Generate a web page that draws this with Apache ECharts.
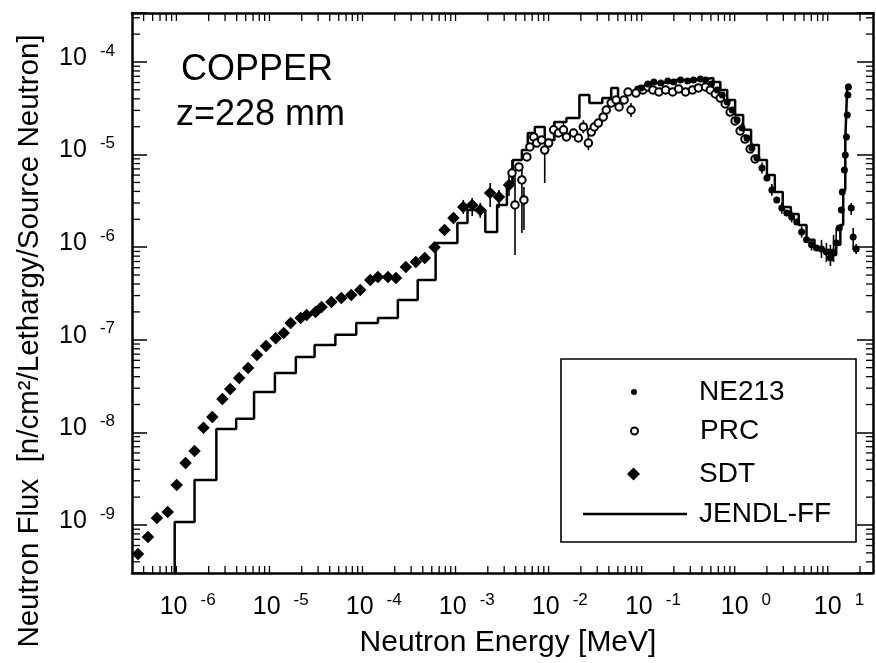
<!DOCTYPE html>
<html><head><meta charset="utf-8">
<script src="https://cdn.jsdelivr.net/npm/echarts@6/dist/echarts.min.js"></script>
<style>html,body{margin:0;padding:0;background:#fff}#c{width:876px;height:663px}</style>
</head><body><div id="c"></div>
<script>
const FONT = '"Liberation Sans", Arial, Helvetica, sans-serif';

// ---- SDT (diamonds) ----
const sdtE = [3.48e-7, 4.45e-7, 5.55e-7, 7.26e-7, 9.06e-7, 1.13e-6, 1.41e-6, 1.76e-6, 2.19e-6, 2.81e-6, 3.41e-6, 4.26e-6, 5.31e-6, 6.62e-6, 8.26e-6, 1.05e-5, 1.28e-5, 1.52e-5, 1.95e-5, 2.26e-5, 2.82e-5, 3.27e-5, 4.17e-5, 5.33e-5, 6.82e-5, 8.51e-5, 1.09e-4, 1.32e-4, 1.69e-4, 2.06e-4, 2.63e-4, 3.37e-4, 4.20e-4, 5.36e-4, 6.85e-4, 8.55e-4, 1.09e-3, 1.36e-3, 1.66e-3, 2.12e-3, 2.64e-3, 3.38e-3];
const sdtF = [4.86e-10, 7.41e-10, 1.19e-9, 1.38e-9, 2.70e-9, 4.68e-9, 6.30e-9, 1.12e-8, 1.47e-8, 2.30e-8, 2.94e-8, 3.87e-8, 4.95e-8, 6.85e-8, 8.57e-8, 1.04e-7, 1.18e-7, 1.52e-7, 1.72e-7, 1.85e-7, 2.00e-7, 2.26e-7, 2.56e-7, 2.82e-7, 3.05e-7, 3.45e-7, 4.43e-7, 4.77e-7, 4.77e-7, 4.65e-7, 6.11e-7, 6.92e-7, 7.64e-7, 1.00e-6, 1.53e-6, 2.07e-6, 2.72e-6, 2.86e-6, 2.52e-6, 3.85e-6, 3.48e-6, 4.70e-6];
const sdtErrE  = [1.09e-3, 1.36e-3, 1.66e-3, 2.12e-3, 2.64e-3, 3.38e-3];
const sdtErrLo = [2.28e-6, 2.17e-6, 2.07e-6, 2.72e-6, 2.65e-6, 3.57e-6];
const sdtErrHi = [3.24e-6, 3.40e-6, 3.00e-6, 4.93e-6, 4.15e-6, 5.87e-6];

// ---- PRC (open circles) ----
const prcE = [3.64e-3, 3.92e-3, 4.32e-3, 4.65e-3, 4.89e-3, 5.26e-3, 5.66e-3, 6.24e-3, 6.71e-3, 7.60e-3, 8.18e-3, 9.02e-3, 1.02e-2, 1.15e-2, 1.30e-2, 1.40e-2, 1.67e-2, 1.88e-2, 2.13e-2, 2.41e-2, 2.59e-2, 2.79e-2, 3.08e-2, 3.48e-2, 3.75e-2, 4.24e-2, 4.79e-2, 5.15e-2, 5.83e-2, 6.43e-2, 6.92e-2, 7.82e-2, 9.29e-2, 0.105, 0.119, 0.138, 0.163, 0.194, 0.225, 0.267, 0.317, 0.367, 0.437, 0.493, 0.557, 0.631, 0.713, 0.805, 0.910, 1.03, 1.16, 1.32, 1.49];
const prcF = [6.32e-6, 2.86e-6, 7.35e-6, 5.32e-6, 3.24e-6, 9.42e-6, 1.21e-5, 1.55e-5, 1.33e-5, 1.44e-5, 1.12e-5, 1.33e-5, 1.85e-5, 1.71e-5, 1.85e-5, 1.55e-5, 1.71e-5, 1.51e-5, 1.99e-5, 1.33e-5, 1.75e-5, 1.99e-5, 2.19e-5, 2.55e-5, 3.03e-5, 3.61e-5, 3.89e-5, 3.27e-5, 3.89e-5, 4.74e-5, 3.03e-5, 4.62e-5, 4.99e-5, 5.37e-5, 4.99e-5, 4.74e-5, 4.99e-5, 4.74e-5, 5.11e-5, 4.74e-5, 4.99e-5, 5.24e-5, 5.37e-5, 4.99e-5, 4.51e-5, 4.08e-5, 3.52e-5, 2.88e-5, 2.31e-5, 1.80e-5, 1.47e-5, 1.15e-5, 8.96e-6];
const prcErrE  = [3.64e-3, 3.92e-3, 4.65e-3, 4.89e-3, 8.18e-3, 1.02e-2, 1.30e-2, 2.13e-2, 2.41e-2, 6.92e-2];
const prcErrLo = [4.47e-6, 8.24e-7, 1.42e-6, 1.53e-6, 4.93e-6, 1.55e-5, 1.55e-5, 1.70e-5, 1.12e-5, 2.55e-5];
const prcErrHi = [8.75e-6, 6.82e-6, 7.73e-6, 4.47e-6, 1.63e-5, 2.25e-5, 2.20e-5, 2.35e-5, 1.71e-5, 3.61e-5];

// ---- NE213 (small filled dots) ----
const neE = [8.85e-2, 0.105, 0.122, 0.145, 0.172, 0.199, 0.236, 0.281, 0.325, 0.385, 0.437, 0.506, 0.586, 0.662, 0.748, 0.845, 0.957, 1.08, 1.22, 1.38, 1.56, 1.77, 2.00, 2.26, 2.55, 2.89, 3.27, 3.69, 4.18, 4.72, 5.33, 6.03, 6.82, 7.71, 8.71, 9.62, 10.4, 11.1, 12.0, 12.6, 12.9, 13.6, 13.9, 14.3, 14.6, 14.8, 15.0, 16.1, 16.9, 18.2];
const neF = [5.24e-5, 5.78e-5, 6.08e-5, 5.93e-5, 6.23e-5, 6.08e-5, 6.40e-5, 6.23e-5, 6.40e-5, 6.55e-5, 6.40e-5, 5.78e-5, 4.99e-5, 4.40e-5, 3.70e-5, 3.03e-5, 2.37e-5, 1.94e-5, 1.51e-5, 1.18e-5, 9.19e-6, 7.16e-6, 5.58e-6, 4.15e-6, 3.24e-6, 2.65e-6, 2.34e-6, 2.12e-6, 1.87e-6, 1.46e-6, 1.20e-6, 1.06e-6, 9.80e-7, 9.55e-7, 8.87e-7, 7.64e-7, 8.87e-7, 1.11e-6, 1.61e-6, 2.52e-6, 3.95e-6, 6.82e-6, 9.90e-6, 1.55e-5, 2.68e-5, 4.40e-5, 5.37e-5, 2.65e-6, 1.29e-6, 9.55e-7];
const neErrE  = [1.08, 1.38, 1.77, 2.26, 2.89, 3.69, 4.72, 6.03, 7.71, 8.71, 9.62, 10.4, 11.1, 16.1, 16.9, 18.2];
const neErrLo = [1.70e-5, 1.03e-5, 6.25e-6, 3.60e-6, 2.30e-6, 1.85e-6, 1.27e-6, 9.20e-7, 7.64e-7, 6.92e-7, 6.27e-7, 6.92e-7, 8.24e-7, 2.23e-6, 9.33e-7, 8.43e-7];
const neErrHi = [2.20e-5, 1.35e-5, 8.20e-6, 4.80e-6, 3.05e-6, 2.45e-6, 1.68e-6, 1.22e-6, 1.20e-6, 1.11e-6, 1.06e-6, 1.36e-6, 1.61e-6, 3.00e-6, 1.61e-6, 1.08e-6];

// ---- JENDL-FF (histogram, left bin edges) ----
const jendlE = [8.63e-7, 8.63e-7, 1.41e-6, 2.42e-6, 3.95e-6, 6.15e-6, 1.03e-5, 1.73e-5, 2.75e-5, 4.60e-5, 7.71e-5, 1.32e-4, 2.16e-4, 3.53e-4, 5.50e-4, 9.42e-4, 1.21e-3, 1.88e-3, 2.52e-3, 3.21e-3, 3.72e-3, 4.65e-3, 5.38e-3, 6.40e-3, 8.18e-3, 1.04e-2, 1.40e-2, 1.93e-2, 2.47e-2, 3.40e-2, 4.24e-2, 5.02e-2, 6.12e-2, 7.82e-2, 0.105, 0.145, 0.209, 0.302, 0.437, 0.531, 0.631, 0.748, 0.910, 1.11, 1.35, 1.64, 2.00, 2.43, 2.96, 3.61, 4.39, 5.33, 6.49, 7.91, 9.62, 11.1, 12.3, 13.2, 13.9, 14.6, 15.7];
const jendlF = [1e-10, 1.08e-9, 3.06e-9, 1.09e-8, 1.40e-8, 2.73e-8, 4.38e-8, 6.52e-8, 8.79e-8, 1.13e-7, 1.52e-7, 1.72e-7, 2.69e-7, 4.43e-7, 1.11e-6, 1.82e-6, 2.52e-6, 1.46e-6, 2.86e-6, 4.70e-6, 8.75e-6, 1.12e-5, 1.71e-5, 1.99e-5, 1.44e-5, 2.25e-5, 2.48e-5, 4.40e-5, 3.61e-5, 4.08e-5, 5.24e-5, 3.89e-5, 4.74e-5, 5.37e-5, 5.93e-5, 6.08e-5, 6.40e-5, 6.55e-5, 6.72e-5, 6.08e-5, 4.99e-5, 3.89e-5, 2.68e-5, 1.85e-5, 1.27e-5, 8.75e-6, 6.02e-6, 3.95e-6, 2.72e-6, 2.28e-6, 1.74e-6, 1.20e-6, 1.00e-6, 9.33e-7, 8.24e-7, 1.06e-6, 1.74e-6, 4.15e-6, 1.44e-5, 5.65e-5, 5.65e-5];

// ---- axes ----
const X_MIN = 3.0e-7, X_MAX = 27.6;
const Y_MIN = 3.03e-10, Y_MAX = 3.38e-4;
const xTickExps = [-6, -5, -4, -3, -2, -1, 0, 1];
const yTickExps = [-9, -8, -7, -6, -5, -4];
const xTitle = 'Neutron Energy [MeV]';
const yTitle = 'Neutron Flux  [n/cm\u00B2/Lethargy/Source Neutron]';
const labelLines = ['COPPER', 'z=228 mm'];

const zip = (a, b) => a.map((v, i) => [v, b[i]]);
const zip3 = (a, b, c) => a.map((v, i) => [v, b[i], c[i]]);

const xMinor = [];
for (let n = -7; n <= 1; n++) for (let k = 2; k <= 9; k++) { const v = k * Math.pow(10, n); if (v > X_MIN && v < X_MAX) xMinor.push([v, Y_MIN]); }
const yMinor = [];
for (let n = -10; n <= -4; n++) for (let k = 2; k <= 9; k++) { const v = k * Math.pow(10, n); if (v > Y_MIN && v < Y_MAX) yMinor.push([X_MIN, v]); }

function expLabel(list) {
  return function (v) {
    const l = Math.log10(v), e = Math.round(l);
    if (Math.abs(l - e) > 1e-6 || list.indexOf(e) < 0) return '';
    return '{b|10}{s|' + e + '}';
  };
}
const rich = {
  b: { fontFamily: FONT, fontSize: 25, color: '#000', padding: [0, 13, 0, 0] },
  s: { fontFamily: FONT, fontSize: 17, color: '#000', padding: [0, 0, 14, 0] }
};

function errItem(params, api) {
  const x = api.value(0);
  const p1 = api.coord([x, api.value(1)]), p2 = api.coord([x, api.value(2)]);
  return { type: 'line', shape: { x1: p1[0], y1: p1[1], x2: p2[0], y2: p2[1] }, style: { stroke: '#000', lineWidth: 1.6 } };
}
function xMinorItem(params, api) {
  const v = api.value(0);
  const b = api.coord([v, Y_MIN]), t = api.coord([v, Y_MAX]);
  return { type: 'group', children: [
    { type: 'line', shape: { x1: b[0], y1: b[1], x2: b[0], y2: b[1] - 7 }, style: { stroke: '#000', lineWidth: 1.3 } },
    { type: 'line', shape: { x1: t[0], y1: t[1], x2: t[0], y2: t[1] + 8 }, style: { stroke: '#000', lineWidth: 1.3 } }
  ] };
}
function yMinorItem(params, api) {
  const v = api.value(1);
  const l = api.coord([X_MIN, v]), r = api.coord([X_MAX, v]);
  return { type: 'group', children: [
    { type: 'line', shape: { x1: l[0], y1: l[1], x2: l[0] + 8, y2: l[1] }, style: { stroke: '#000', lineWidth: 1.3 } },
    { type: 'line', shape: { x1: r[0], y1: r[1], x2: r[0] - 7, y2: r[1] }, style: { stroke: '#000', lineWidth: 1.3 } }
  ] };
}

const axisLineStyle = { color: '#000', width: 2.5 };
function legendItem(name, opts, textPad) {
  return Object.assign({
    orient: 'horizontal', padding: 0, itemGap: 0, selectedMode: false, symbolKeepAspect: true,
    data: [name],
    textStyle: { fontFamily: FONT, fontSize: 28, color: '#000', padding: [0, 0, 0, textPad] }
  }, opts);
}

const chart = echarts.init(document.getElementById('c'), null, { renderer: 'canvas' });
chart.setOption({
  animation: false,
  backgroundColor: '#fff',
  grid: { left: 132, top: 13, right: -3, bottom: 90, containLabel: false },
  xAxis: [
    { type: 'log', min: X_MIN, max: X_MAX, position: 'bottom',
      axisLine: { lineStyle: axisLineStyle }, axisTick: { show: false }, splitLine: { show: false }, minorTick: { show: false },
      axisLabel: { formatter: expLabel(xTickExps), rich: rich, margin: 19, padding: [0, 0, 0, 14], showMinLabel: true, showMaxLabel: true },
      name: xTitle, nameLocation: 'middle', nameGap: 55,
      nameTextStyle: { fontFamily: FONT, fontSize: 30, color: '#000', padding: [0, 0, 0, 11] } },
    { type: 'log', min: X_MIN, max: X_MAX, position: 'top',
      axisLine: { lineStyle: axisLineStyle }, axisTick: { show: false }, axisLabel: { show: false }, splitLine: { show: false } }
  ],
  yAxis: [
    { type: 'log', min: Y_MIN, max: Y_MAX, position: 'left',
      axisLine: { lineStyle: axisLineStyle }, axisTick: { inside: true, length: 15, lineStyle: { color: '#000', width: 1.5 } },
      splitLine: { show: false },
      axisLabel: { formatter: expLabel(yTickExps), rich: rich, margin: 17, padding: [0, 0, 8, 0] } },
    { type: 'log', min: Y_MIN, max: Y_MAX, position: 'right',
      axisLine: { lineStyle: axisLineStyle }, axisTick: { inside: true, length: 16, lineStyle: { color: '#000', width: 1.5 } },
      axisLabel: { show: false }, splitLine: { show: false } }
  ],
  legend: [
    legendItem('NE213', { itemWidth: 6, itemHeight: 6, left: 631, top: 378 }, 57),
    legendItem('PRC', { itemWidth: 7, itemHeight: 7, left: 630, top: 417 }, 57),
    legendItem('SDT', { itemWidth: 13, itemHeight: 13, left: 627, top: 460 }, 54),
    legendItem({ name: 'JENDL-FF', icon: 'rect' }, { itemWidth: 104, itemHeight: 2.5, left: 583, top: 500 }, 7)
  ],
  graphic: [
    { type: 'rect', z: 3, shape: { x: 561, y: 359, width: 295, height: 183 }, style: { fill: '#fff', stroke: '#000', lineWidth: 1.6 } },
    { type: 'text', z: 5, x: 181, y: 70, style: { text: labelLines[0], font: '36px ' + FONT, fill: '#000', textAlign: 'left', textVerticalAlign: 'middle' } },
    { type: 'text', z: 5, x: 176, y: 115, style: { text: labelLines[1], font: '36px ' + FONT, fill: '#000', textAlign: 'left', textVerticalAlign: 'middle' } },
    { type: 'text', z: 5, x: 30, y: 341, rotation: Math.PI / 2, style: { text: yTitle, font: '29.5px ' + FONT, fill: '#000', textAlign: 'center', textVerticalAlign: 'middle' } }
  ],
  series: [
    { name: 'xminor', type: 'custom', renderItem: xMinorItem, data: xMinor, silent: true, z: 1 },
    { name: 'yminor', type: 'custom', renderItem: yMinorItem, data: yMinor, silent: true, z: 1 },
    { name: 'JENDL-FF', type: 'line', step: 'end', data: zip(jendlE, jendlF), symbol: 'none', showSymbol: false,
      lineStyle: { color: '#000', width: 2.5 }, itemStyle: { color: '#000' }, z: 2 },
    { name: 'sdtErr', type: 'custom', renderItem: errItem, data: zip3(sdtErrE, sdtErrLo, sdtErrHi), encode: { x: 0, y: [1, 2] }, z: 2 },
    { name: 'prcErr', type: 'custom', renderItem: errItem, data: zip3(prcErrE, prcErrLo, prcErrHi), encode: { x: 0, y: [1, 2] }, z: 2 },
    { name: 'neErr', type: 'custom', renderItem: errItem, data: zip3(neErrE, neErrLo, neErrHi), encode: { x: 0, y: [1, 2] }, z: 2 },
    { name: 'SDT', type: 'scatter', data: zip(sdtE, sdtF), symbol: 'diamond', symbolSize: 12.5, itemStyle: { color: '#000', opacity: 1 }, z: 3 },
    { name: 'PRC', type: 'scatter', data: zip(prcE, prcF), symbol: 'circle', symbolSize: 7.5,
      itemStyle: { color: '#fff', borderColor: '#000', borderWidth: 2, opacity: 1 }, z: 3 },
    { name: 'NE213', type: 'scatter', data: zip(neE, neF), symbol: 'circle', symbolSize: 7, itemStyle: { color: '#000', opacity: 1 }, z: 4 }
  ]
});
</script>
</body></html>
